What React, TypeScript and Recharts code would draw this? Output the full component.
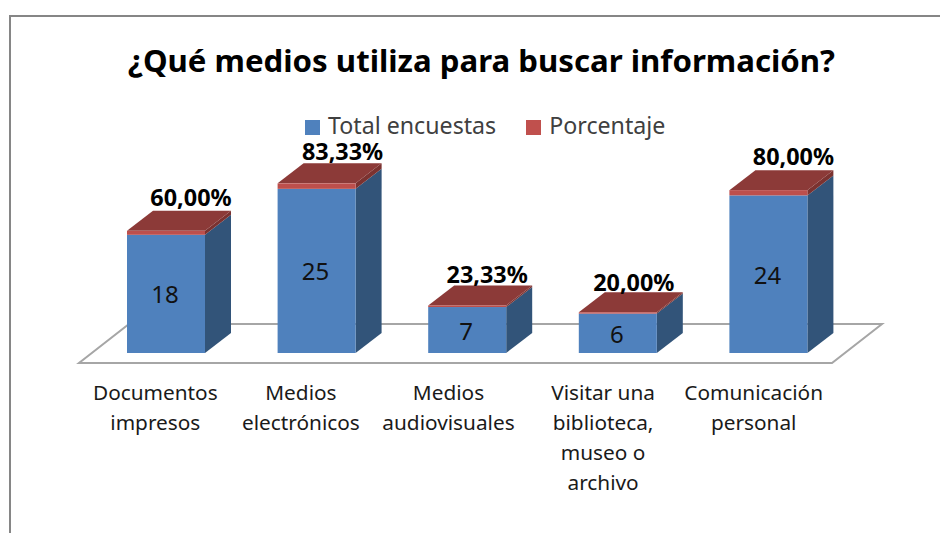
import { Bar, BarChart, Customized, LabelList, Legend, usePlotArea, XAxis, YAxis } from "recharts";

const categories = [
  "Documentos impresos",
  "Medios electrónicos",
  "Medios audiovisuales",
  "Visitar una biblioteca, museo o archivo",
  "Comunicación personal",
];
const categoryLines = [
  ["Documentos", "impresos"],
  ["Medios", "electrónicos"],
  ["Medios", "audiovisuales"],
  ["Visitar una", "biblioteca,", "museo o", "archivo"],
  ["Comunicación", "personal"],
];
const totals = [18, 25, 7, 6, 24];
const percents = [60, 83.33, 23.33, 20, 80];

const data = categories.map((name, i) => ({
  name,
  total: totals[i],
  porcentaje: percents[i] / 100,
}));

const FONT = "'Noto Sans', sans-serif";
const DEPTH_X = 26;
const DEPTH_Y = 20;

// the original places these labels by hand, so they are not quite even
const tickNudge = [-11, -16, -19, -15, -15];
const percentNudgeX = [25, 26, 20, 16, 25];
const percentNudgeY = [0, 2, 2, 4, 0];

function Floor() {
  const plot = usePlotArea();
  if (!plot) return null;
  const bottom = plot.y + plot.height;
  const points = [
    [plot.x - 12, bottom + 10],
    [plot.x + 741, bottom + 10],
    [plot.x + 791, bottom - 29],
    [plot.x + 38, bottom - 29],
  ];
  return (
    <polygon
      points={points.map((p) => p.join(",")).join(" ")}
      fill="#fff"
      stroke="#a6a6a6"
      strokeWidth={2}
    />
  );
}

function Block({ x, y, width, height, front, side, lid }: any) {
  const right = x + width;
  const bottom = y + height;
  return (
    <g>
      <polygon
        points={`${right},${y} ${right + DEPTH_X},${y - DEPTH_Y} ${right + DEPTH_X},${bottom - DEPTH_Y} ${right},${bottom}`}
        fill={side}
      />
      {lid && (
        <polygon
          points={`${x},${y} ${x + DEPTH_X},${y - DEPTH_Y} ${right + DEPTH_X},${y - DEPTH_Y} ${right},${y}`}
          fill={lid}
        />
      )}
      <rect x={x} y={y} width={width} height={height} fill={front} />
    </g>
  );
}

function CategoryTick({ x, y, index }: any) {
  const cx = x + tickNudge[index];
  return (
    <text x={cx} y={y + 39} textAnchor="middle" fontFamily={FONT} fontSize={20.8} fill="#1a1a1a">
      {categoryLines[index].map((line, i) => (
        <tspan key={line} x={cx} dy={i === 0 ? 0 : 30}>
          {line}
        </tspan>
      ))}
    </text>
  );
}

function PercentLabel({ x, y, width, index }: any) {
  const label = percents[index].toFixed(2).replace(".", ",") + "%";
  return (
    <text
      x={x + width / 2 + percentNudgeX[index]}
      y={y - 25 + percentNudgeY[index]}
      textAnchor="middle"
      fontFamily={FONT}
      fontSize={23.4}
      fontWeight={700}
      fill="#000"
    >
      {label}
    </text>
  );
}

export default function App() {
  return (
    <div style={{ position: "absolute", left: 0, top: 0, width: 940, height: 533, overflow: "hidden", background: "#fff" }}>
      <div
        style={{
          position: "absolute",
          left: 9,
          top: 15,
          right: 0,
          bottom: 0,
          borderTop: "2px solid #868686",
          borderLeft: "2px solid #868686",
        }}
      />
      <div
        style={{
          position: "absolute",
          left: 128,
          top: 39,
          fontFamily: FONT,
          fontSize: 31.2,
          fontWeight: 700,
          color: "#000",
          whiteSpace: "nowrap",
        }}
      >
        ¿Qué medios utiliza para buscar información?
      </div>
      <BarChart
        width={940}
        height={533}
        data={data}
        barSize={78}
        margin={{ top: 156, right: 96, bottom: 80, left: 91 }}
        style={{ position: "absolute", left: 0, top: 0 }}
      >
        <Customized component={<Floor />} />
        <XAxis
          dataKey="name"
          axisLine={false}
          tickLine={false}
          height={100}
          interval={0}
          tick={<CategoryTick />}
        />
        <YAxis hide domain={[0, 30]} />
        <Legend
          verticalAlign="top"
          align="left"
          iconType="square"
          iconSize={15}
          itemSorter={null}
          wrapperStyle={{ top: 115, left: 305, width: 420, height: 0, fontFamily: FONT, fontSize: 23.2, lineHeight: "20px" }}
          formatter={(value) => (
            <span style={{ color: "#404040", marginLeft: 4, marginRight: 20 }}>{value}</span>
          )}
        />
        <Bar
          dataKey="total"
          name="Total encuestas"
          stackId="a"
          fill="#4f81bd"
          isAnimationActive={false}
          shape={(props: any) => <Block {...props} front="#4f81bd" side="#325479" />}
        >
          <LabelList dataKey="total" position="center" dy={1} dx={-1} fontFamily={FONT} fontSize={24} fill="#111" />
        </Bar>
        <Bar
          dataKey="porcentaje"
          name="Porcentaje"
          stackId="a"
          fill="#c0504d"
          isAnimationActive={false}
          shape={(props: any) => <Block {...props} front="#bd4f4c" side="#7b3230" lid="#8c3a38" />}
        >
          <LabelList dataKey="porcentaje" content={<PercentLabel />} />
        </Bar>
      </BarChart>
    </div>
  );
}
